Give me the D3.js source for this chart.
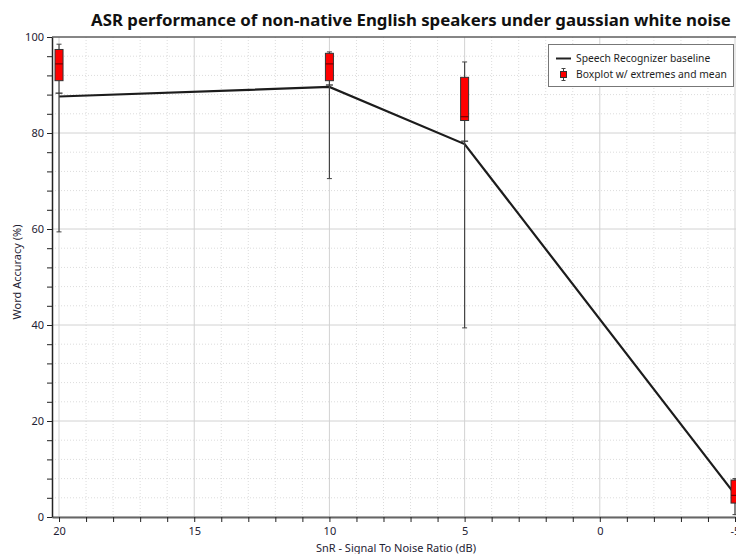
<!DOCTYPE html>
<html>
<head>
<meta charset="utf-8">
<script src="https://cdn.jsdelivr.net/npm/d3@7"></script>
<style>
  body { margin: 0; background: #fff; }
  svg { display: block; font-family: "Noto Sans", "Open Sans", sans-serif; }
</style>
</head>
<body>
<div id="chart"></div>
<script>
// values
var snr = [20, 10, 5, -5];
var baseline = [87.6, 89.6, 77.7, 4.7];
var boxMin = [59.4, 70.5, 39.4, 0.5];
var boxQ1 = [90.9, 90.9, 82.6, 2.9];
var boxMedian = [94.4, 94.4, 83.4, 4.5];
var boxQ3 = [97.4, 96.6, 91.6, 7.7];
var boxMax = [98.5, 96.9, 94.8, 8.0];
var boxMean = [88.3, 90.0, 78.3, 4.2];
var xTicks = d3.range(20, -6, -1);
var yTicks = d3.range(0, 101, 4);

// dimensions of the graph
var margin = { top: 37, right: 0, bottom: 37, left: 52 },
    width = 736 - margin.left - margin.right,
    height = 554 - margin.top - margin.bottom;

var root = d3.select("#chart")
    .append("svg")
    .attr("width", 736)
    .attr("height", 554);

var svg = root.append("g")
    .attr("transform", "translate(" + margin.left + "," + margin.top + ")");

// scales (x runs backwards, 20 dB on the left)
var x = d3.scaleLinear()
    .domain([20.26, -5])
    .range([0, 683]);

var y = d3.scaleLinear()
    .domain([0, 100])
    .range([height, 0]);

// grid lines: dotted minor, solid major
svg.append("g").selectAll("line")
    .data(xTicks)
    .enter().append("line")
    .attr("x1", function (d) { return x(d); })
    .attr("x2", function (d) { return x(d); })
    .attr("y1", 0)
    .attr("y2", height)
    .attr("stroke", function (d) { return d % 5 === 0 ? "#d2d2d2" : "#dcdcdc"; })
    .attr("stroke-dasharray", function (d) { return d % 5 === 0 ? null : "1,2"; });

svg.append("g").selectAll("line")
    .data(yTicks)
    .enter().append("line")
    .attr("x1", 0)
    .attr("x2", width)
    .attr("y1", function (d) { return y(d); })
    .attr("y2", function (d) { return y(d); })
    .attr("stroke", function (d) { return d % 20 === 0 ? "#d2d2d2" : "#dcdcdc"; })
    .attr("stroke-dasharray", function (d) { return d % 20 === 0 ? null : "1,2"; });

// top frame
svg.append("line")
    .attr("x1", 0).attr("x2", width)
    .attr("y1", 0).attr("y2", 0)
    .attr("stroke", "#222");

// axes
var xAxis = svg.append("g")
    .attr("transform", "translate(0," + height + ")")
    .call(d3.axisBottom(x)
        .tickValues(xTicks)
        .tickSize(5)
        .tickSizeOuter(0)
        .tickFormat(function (d) { return d % 5 === 0 ? d : ""; }));

var yAxis = svg.append("g")
    .call(d3.axisLeft(y)
        .tickValues(yTicks)
        .tickSize(5)
        .tickSizeOuter(0)
        .tickFormat(function (d) { return d % 20 === 0 ? d : ""; }));

[xAxis, yAxis].forEach(function (a) {
    a.select(".domain").attr("stroke", "#222").attr("stroke-width", 1.5);
    a.selectAll(".tick line").attr("stroke", "#222");
    a.selectAll(".tick text")
        .attr("fill", "#1e2233")
        .style("font-size", "11px")
        .style("font-family", "\"Noto Sans\", sans-serif");
});
xAxis.select(".domain").attr("stroke", "#666").attr("stroke-width", 2);
xAxis.selectAll(".tick text").attr("dy", "0.9em");

// baseline line
var line = d3.line()
    .x(function (d, i) { return x(snr[i]); })
    .y(function (d) { return y(d); });

svg.append("path")
    .datum(baseline)
    .attr("d", line)
    .attr("fill", "none")
    .attr("stroke", "#1c1c1c")
    .attr("stroke-width", 2.2);

// boxplots
var boxW = 8, capW = 5, meanW = 7;
var boxes = svg.append("g").selectAll("g")
    .data(snr)
    .enter().append("g");

boxes.append("line")
    .attr("x1", function (d) { return x(d); })
    .attr("x2", function (d) { return x(d); })
    .attr("y1", function (d, i) { return y(boxMax[i]); })
    .attr("y2", function (d, i) { return y(boxMin[i]); })
    .attr("stroke", "#444")
    .attr("stroke-width", 1.2);

boxes.append("line")
    .attr("x1", function (d) { return x(d) - capW / 2; })
    .attr("x2", function (d) { return x(d) + capW / 2; })
    .attr("y1", function (d, i) { return y(boxMax[i]); })
    .attr("y2", function (d, i) { return y(boxMax[i]); })
    .attr("stroke", "#444");

boxes.append("line")
    .attr("x1", function (d) { return x(d) - capW / 2; })
    .attr("x2", function (d) { return x(d) + capW / 2; })
    .attr("y1", function (d, i) { return y(boxMin[i]); })
    .attr("y2", function (d, i) { return y(boxMin[i]); })
    .attr("stroke", "#444");

boxes.append("line")
    .attr("x1", function (d) { return x(d) - meanW / 2; })
    .attr("x2", function (d) { return x(d) + meanW / 2; })
    .attr("y1", function (d, i) { return y(boxMean[i]); })
    .attr("y2", function (d, i) { return y(boxMean[i]); })
    .attr("stroke", "#333")
    .attr("stroke-width", 1.3);

boxes.append("rect")
    .attr("x", function (d) { return x(d) - boxW / 2; })
    .attr("y", function (d, i) { return y(boxQ3[i]); })
    .attr("width", boxW)
    .attr("height", function (d, i) { return y(boxQ1[i]) - y(boxQ3[i]); })
    .attr("fill", "#ff0000")
    .attr("stroke", "#333")
    .attr("stroke-width", 1);

boxes.append("line")
    .attr("x1", function (d) { return x(d) - boxW / 2; })
    .attr("x2", function (d) { return x(d) + boxW / 2; })
    .attr("y1", function (d, i) { return y(boxMedian[i]); })
    .attr("y2", function (d, i) { return y(boxMedian[i]); })
    .attr("stroke", "#7a0000")
    .attr("stroke-width", 1.2);

// legend
var legend = root.append("g");
legend.append("rect")
    .attr("x", 548.5).attr("y", 44.5)
    .attr("width", 185).attr("height", 42)
    .attr("fill", "#fff")
    .attr("stroke", "#777");

legend.append("line")
    .attr("x1", 556).attr("x2", 571)
    .attr("y1", 58.5).attr("y2", 58.5)
    .attr("stroke", "#222").attr("stroke-width", 2);

legend.append("line")
    .attr("x1", 563.5).attr("x2", 563.5)
    .attr("y1", 68).attr("y2", 81)
    .attr("stroke", "#444");
legend.append("line")
    .attr("x1", 561.5).attr("x2", 565.5)
    .attr("y1", 68.5).attr("y2", 68.5)
    .attr("stroke", "#444");
legend.append("line")
    .attr("x1", 561.5).attr("x2", 565.5)
    .attr("y1", 80.5).attr("y2", 80.5)
    .attr("stroke", "#444");
legend.append("rect")
    .attr("x", 560.5).attr("y", 71.5)
    .attr("width", 6).attr("height", 6)
    .attr("fill", "#ff0000").attr("stroke", "#333");

legend.selectAll("text")
    .data(["Speech Recognizer baseline", "Boxplot w/ extremes and mean"])
    .enter().append("text")
    .attr("x", 576)
    .attr("y", function (d, i) { return 62 + i * 16; })
    .style("font-size", "10.3px")
    .attr("fill", "#1e1e1e")
    .text(function (d) { return d; });

// titles
root.append("text")
    .attr("x", 411)
    .attr("y", 26)
    .attr("text-anchor", "middle")
    .style("font-size", "16.8px")
    .style("font-weight", "bold")
    .attr("fill", "#111")
    .text("ASR performance of non-native English speakers under gaussian white noise");

root.append("text")
    .attr("x", 396)
    .attr("y", 552)
    .attr("text-anchor", "middle")
    .style("font-size", "11px")
    .attr("fill", "#1e2233")
    .text("SnR - Signal To Noise Ratio (dB)");

root.append("text")
    .attr("transform", "translate(21,272) rotate(-90)")
    .attr("text-anchor", "middle")
    .style("font-size", "11px")
    .attr("fill", "#1e2233")
    .text("Word Accuracy (%)");
</script>
</body>
</html>
